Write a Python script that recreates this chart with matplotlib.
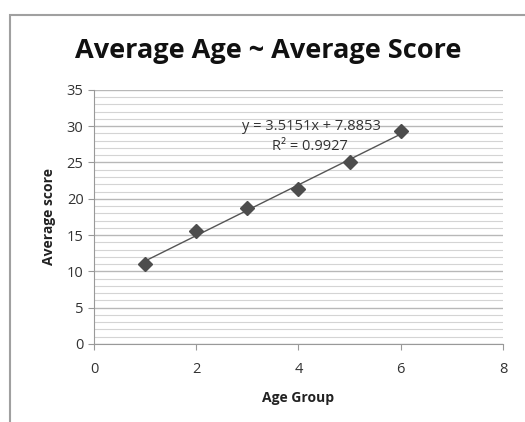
import numpy as np
import matplotlib
matplotlib.use("Agg")
import matplotlib.pyplot as plt
from matplotlib.patches import Rectangle

plt.rcParams['font.family'] = ['Open Sans', 'DejaVu Sans']

age_group = [1, 2, 3, 4, 5, 6]
avg_score = [11.0, 15.6, 18.7, 21.4, 25.0, 29.3]
eq_text = "y = 3.5151x + 7.8853"
r2_text = "R² = 0.9927"

fig = plt.figure(figsize=(5.25, 4.22), dpi=100)
ax = fig.add_axes([0.179, 0.185, 0.779, 0.602])

# chart frame
fig.patches.append(Rectangle((0.019, -0.02), 1.0, 0.985, transform=fig.transFigure,
                             fill=False, edgecolor='#a0a0a0', linewidth=1.5))

# trendline
k, b = np.polyfit(age_group, avg_score, 1)
xs = np.array([age_group[0], age_group[-1]])
ax.plot(xs, k * xs + b, color='#555555', linewidth=1.0, zorder=3)
ax.plot(age_group, avg_score, linestyle='none', marker='D', markersize=7,
        color='#4d4d4d', zorder=4)

ax.set_xlim(0, 8)
ax.set_ylim(0, 35)
ax.set_xticks([0, 2, 4, 6, 8])
ax.set_yticks(range(0, 36, 5))
ax.set_yticks(range(0, 36, 1), minor=True)
ax.grid(True, which='major', axis='y', color='#b8b8b8', linewidth=1.0)
ax.grid(True, which='minor', axis='y', color='#d4d4d4', linewidth=0.8)
ax.set_axisbelow(True)

for s in ['top', 'right']:
    ax.spines[s].set_visible(False)
for s in ['left', 'bottom']:
    ax.spines[s].set_color('#999999')
ax.tick_params(which='major', colors='#999999', labelcolor='#333333', labelsize=10.5, length=4)
ax.tick_params(which='minor', left=False)
ax.tick_params(axis='x', pad=9)

ax.set_xlabel("Age Group", fontsize=10, fontweight='bold', color='#222222', labelpad=10)
ax.set_ylabel("Average score", fontsize=10, fontweight='bold', color='#222222', labelpad=8)
fig.text(0.51, 0.878, "Average Age ~ Average Score", ha='center', va='center',
         fontsize=19.5, fontweight='bold', color='#111111')

ax.text(4.25, 29.9, eq_text, ha='center', va='center', fontsize=10.5, color='#333333')
ax.text(4.22, 27.2, r2_text, ha='center', va='center', fontsize=10.5, color='#333333')

fig.savefig("out.png", dpi=100)
